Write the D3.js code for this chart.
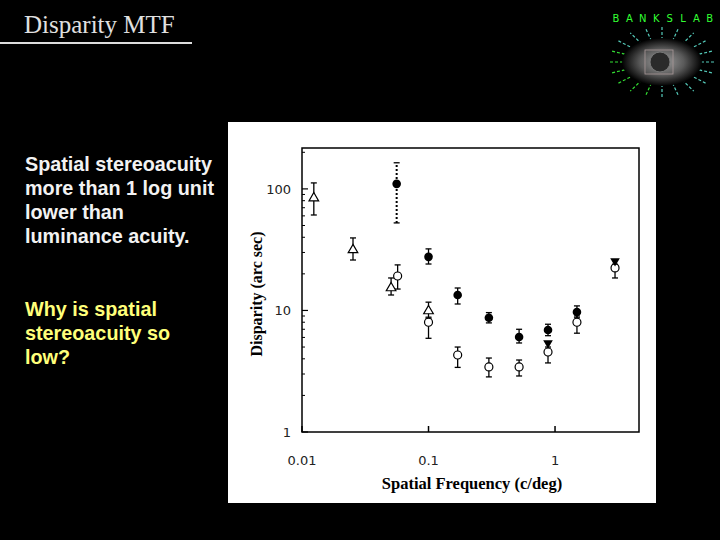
<!DOCTYPE html>
<html><head><meta charset="utf-8">
<script src="https://cdn.jsdelivr.net/npm/d3@7"></script>
<style>html,body{margin:0;padding:0;background:#000;}svg{display:block;}</style>
</head><body>
<svg id="c" width="720" height="540"></svg>
<script>
// ---- data ----
const xTickValues = [0.01, 0.1, 1];
const xTickLabels = ["0.01", "0.1", "1"];
const yTickValues = [1, 10, 100];
const yTickLabels = ["1", "10", "100"];

// filled circles
const filledFreq = [0.056, 0.1, 0.17, 0.3, 0.52, 0.88, 1.49];
const filledDisp = [110, 27.6, 13.4, 8.7, 6.05, 6.9, 9.7];
const filledLo   = [52.5, 24.1, 11.3, 7.9, 5.4, 6.2, 8.7];
const filledHi   = [164, 32.1, 15.3, 9.6, 7.0, 7.7, 10.9];

// open circles
const openFreq = [0.057, 0.1, 0.17, 0.3, 0.52, 0.88, 1.49, 2.98];
const openDisp = [19.2, 8.0, 4.3, 3.43, 3.43, 4.55, 8.0, 22.4];
const openLo   = [15.0, 5.9, 3.4, 2.84, 2.89, 3.7, 6.5, 18.5];
const openHi   = [23.7, 8.8, 5.0, 4.06, 3.91, 5.0, 9.0, 24.0];

// open triangles
const triFreq = [0.0124, 0.0253, 0.0506, 0.1];
const triDisp = [84, 31.5, 15.3, 9.9];
const triLo   = [61, 26, 13.4, 8.6];
const triHi   = [112, 39.5, 18.5, 11.7];

// filled inverted triangles
const invFreq = [0.88, 2.98];
const invDisp = [5.4, 25.5];

const bulletWhite = ["Spatial stereoacuity", "more than 1 log unit", "lower than", "luminance acuity."];
const bulletYellow = ["Why is spatial", "stereoacuity so", "low?"];

// ---- drawing ----
const svg = d3.select("#c");
svg.append("rect").attr("width",720).attr("height",540).attr("fill","#000");

// title
svg.append("text").attr("x",24).attr("y",33).text("Disparity MTF")
  .attr("font-family","Liberation Serif, serif").attr("font-size",25).attr("fill","#e0e0e0");
svg.append("rect").attr("x",0).attr("y",42).attr("width",192).attr("height",2).attr("fill","#dcdcdc");

// logo
const logo = svg.append("g");
const grad = svg.append("defs").append("radialGradient").attr("id","eye");
grad.append("stop").attr("offset","0%").attr("stop-color","#a0a0a0");
grad.append("stop").attr("offset","55%").attr("stop-color","#5a5a5a");
grad.append("stop").attr("offset","100%").attr("stop-color","#000");
const rays = d3.range(0, 360, 18);
logo.selectAll("line.r").data(rays).join("line")
  .attr("x1",d=>662+Math.cos(d*Math.PI/180)*34).attr("y1",d=>62+Math.sin(d*Math.PI/180)*22)
  .attr("x2",d=>662+Math.cos(d*Math.PI/180)*54).attr("y2",d=>62+Math.sin(d*Math.PI/180)*36)
  .attr("stroke",d=>(d>90&&d<200)?"#3d3":"#5cb").attr("stroke-width",1.2).attr("stroke-dasharray","3,2");
logo.append("ellipse").attr("cx",662).attr("cy",62).attr("rx",40).attr("ry",24).attr("fill","url(#eye)");
logo.append("circle").attr("cx",660).attr("cy",62).attr("r",10).attr("fill","#2a2a2a").attr("stroke","#777");
logo.append("rect").attr("x",645).attr("y",50).attr("width",28).attr("height",24).attr("fill","none").attr("stroke","#a99").attr("stroke-width",0.8);
const logoLetters = ["B","A","N","K","S","L","A","B"];
logo.selectAll("text.l").data(logoLetters).join("text")
  .attr("x",(d,i)=>616+i*13.4).attr("y",22).text(d=>d)
  .attr("font-family","DejaVu Sans, sans-serif").attr("font-size",10).attr("fill","#3f3").attr("text-anchor","middle");

// bullet text
svg.selectAll("text.w").data(bulletWhite).join("text")
  .attr("x",25).attr("y",(d,i)=>171+i*24).text(d=>d)
  .attr("font-family","Liberation Sans, Arial, sans-serif").attr("font-weight","bold")
  .attr("font-size",19.8).attr("fill","#f2f2f2");
svg.selectAll("text.y").data(bulletYellow).join("text")
  .attr("x",25).attr("y",(d,i)=>316+i*24).text(d=>d)
  .attr("font-family","Liberation Sans, Arial, sans-serif").attr("font-weight","bold")
  .attr("font-size",19.8).attr("fill","#ffff7a");

// white panel
svg.append("rect").attr("x",228).attr("y",122).attr("width",428).attr("height",381).attr("fill","#fff");

const L=302, R=639, T=148, B=432;
const x = d3.scaleLog().domain([0.01, 4.61]).range([L, R]);
const y = d3.scaleLog().domain([1, 217]).range([B, T]);

const g = svg.append("g");
g.append("rect").attr("x",L).attr("y",T).attr("width",R-L).attr("height",B-T)
  .attr("fill","none").attr("stroke","#000").attr("stroke-width",1.5);

// minor ticks y (left, inward)
const yMinor = [];
[1,10,100].forEach(dec=>{for(let k=2;k<=9;k++){ if(dec*k<217) yMinor.push(dec*k);} });
g.selectAll("line.ym").data(yMinor).join("line")
  .attr("x1",L).attr("x2",L+3).attr("y1",d=>y(d)).attr("y2",d=>y(d)).attr("stroke","#000").attr("stroke-width",1);
g.selectAll("line.yM").data(yTickValues).join("line")
  .attr("x1",L).attr("x2",L+6).attr("y1",d=>y(d)).attr("y2",d=>y(d)).attr("stroke","#000").attr("stroke-width",1.2);
g.selectAll("line.xM").data(xTickValues).join("line")
  .attr("y1",B).attr("y2",B-6).attr("x1",d=>x(d)).attr("x2",d=>x(d)).attr("stroke","#000").attr("stroke-width",1.5);

// tick labels
g.selectAll("text.yt").data(yTickValues).join("text")
  .attr("x",291).attr("y",d=>y(d)+5).attr("text-anchor","end").text((d,i)=>yTickLabels[i])
  .attr("font-family","DejaVu Sans, sans-serif").attr("font-size",13).attr("fill","#222");
g.selectAll("text.xt").data(xTickValues).join("text")
  .attr("x",d=>x(d)).attr("y",465).attr("text-anchor","middle").text((d,i)=>xTickLabels[i])
  .attr("font-family","DejaVu Sans, sans-serif").attr("font-size",13).attr("fill","#222");

// axis titles
g.append("text").attr("transform","translate(262,294) rotate(-90)").attr("text-anchor","middle")
  .text("Disparity (arc sec)").attr("font-family","Liberation Serif, serif").attr("font-weight","bold")
  .attr("font-size",16).attr("fill","#000");
g.append("text").attr("x",472).attr("y",489).attr("text-anchor","middle")
  .text("Spatial Frequency (c/deg)").attr("font-family","Liberation Serif, serif").attr("font-weight","bold")
  .attr("font-size",16.5).attr("fill","#000");

// error bars
function errBars(freq, lo, hi, dashedIdx){
  const d = freq.map((f,i)=>({f, lo:lo[i], hi:hi[i], dash: dashedIdx && dashedIdx.includes(i)}));
  const eg = g.append("g");
  eg.selectAll("line.v").data(d).join("line")
    .attr("x1",e=>x(e.f)).attr("x2",e=>x(e.f)).attr("y1",e=>y(e.lo)).attr("y2",e=>y(e.hi))
    .attr("stroke","#000").attr("stroke-width",e=>e.dash?2:1.3).attr("stroke-dasharray",e=>e.dash?"2,2":null);
  eg.selectAll("line.lo").data(d).join("line")
    .attr("x1",e=>x(e.f)-3).attr("x2",e=>x(e.f)+3).attr("y1",e=>y(e.lo)).attr("y2",e=>y(e.lo))
    .attr("stroke","#000").attr("stroke-width",1.3);
  eg.selectAll("line.hi").data(d).join("line")
    .attr("x1",e=>x(e.f)-3).attr("x2",e=>x(e.f)+3).attr("y1",e=>y(e.hi)).attr("y2",e=>y(e.hi))
    .attr("stroke","#000").attr("stroke-width",1.3);
}
errBars(filledFreq, filledLo, filledHi, [0]);
errBars(openFreq, openLo, openHi);
errBars(triFreq, triLo, triHi);

// markers
const tri = d3.symbol().type(d3.symbolTriangle).size(40);
g.selectAll("path.tri").data(triFreq).join("path")
  .attr("d",tri).attr("transform",(d,i)=>`translate(${x(d)},${y(triDisp[i])})`)
  .attr("fill","#fff").attr("stroke","#000").attr("stroke-width",1.2);
g.selectAll("circle.o").data(openFreq).join("circle")
  .attr("cx",d=>x(d)).attr("cy",(d,i)=>y(openDisp[i])).attr("r",4)
  .attr("fill","#fff").attr("stroke","#000").attr("stroke-width",1.2);
g.selectAll("circle.f").data(filledFreq).join("circle")
  .attr("cx",d=>x(d)).attr("cy",(d,i)=>y(filledDisp[i])).attr("r",4.3).attr("fill","#000");
g.selectAll("path.inv").data(invFreq).join("path")
  .attr("d",tri).attr("transform",(d,i)=>`translate(${x(d)},${y(invDisp[i])}) rotate(180)`)
  .attr("fill","#000");
</script>
</body></html>
